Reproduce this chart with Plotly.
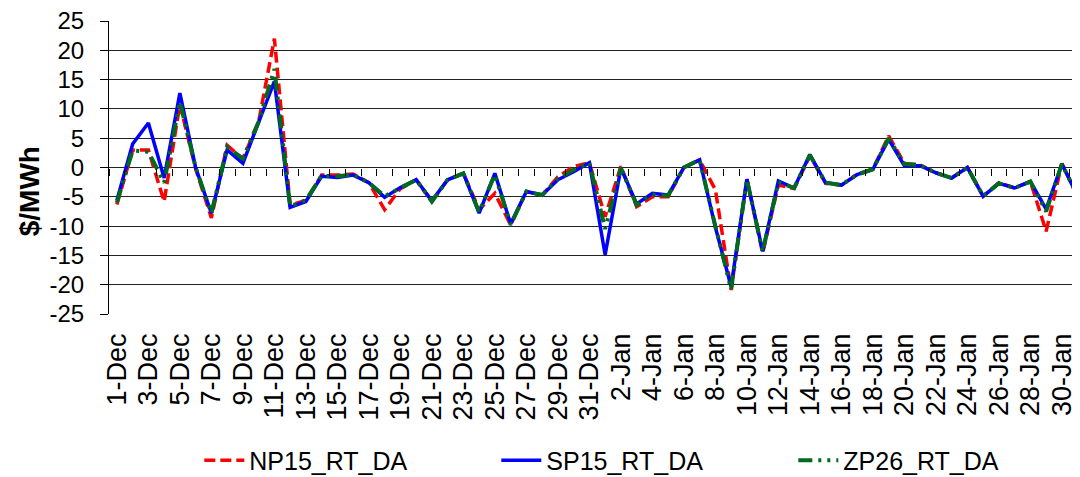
import plotly.graph_objects as go

# daily RT - DA price spread, 1-Dec through 31-Jan
days = [f'{d}-Dec' for d in range(1, 32)] + [f'{d}-Jan' for d in range(1, 32)]

np15 = [-6.3, 3.0, 3.0, -5.8, 10.8, -0.2, -8.6, 3.8, 1.5, 7.8,
        22.0, -6.4, -5.6, -1.3, -1.3, -1.1, -2.6, -7.2, -3.6, -2.1,
        -5.8, -2.1, -1.0, -7.2, -4.4, -9.8, -4.1, -4.7, -1.6, 0.2,
        0.8, -8.4, 0.2, -6.7, -5.0, -5.0, 0.0, 1.3, -3.8, -20.9,
        -2.0, -14.6, -3.0, -3.6, 2.0, -2.7, -3.0, -1.2, -0.3, 5.4,
        0.7, 0.4, -0.9, -1.8, 0.0, -4.9, -2.6, -3.5, -2.4, -10.9,
        0.7, -4.9]
sp15 = [-5.6, 4.0, 7.6, -1.8, 12.7, 0.0, -7.8, 3.0, 0.7, 7.7,
        14.7, -6.8, -5.8, -1.5, -1.7, -1.3, -2.6, -5.1, -3.4, -2.1,
        -5.7, -2.1, -1.0, -7.8, -1.0, -9.6, -4.1, -4.7, -2.1, -0.7,
        0.8, -14.9, -0.1, -6.2, -4.4, -4.7, 0.0, 1.3, -10.2, -20.3,
        -2.0, -14.3, -2.3, -3.5, 2.2, -2.6, -3.0, -1.2, -0.3, 4.8,
        0.3, 0.3, -0.9, -1.8, 0.0, -4.9, -2.7, -3.5, -2.4, -7.1,
        0.6, -4.9]
zp26 = [-6.0, 2.9, 2.7, -2.6, 11.2, 0.0, -7.8, 3.5, 1.5, 7.8,
        16.8, -6.6, -5.6, -1.4, -1.5, -1.2, -2.6, -4.9, -3.5, -2.1,
        -5.8, -2.1, -1.0, -7.6, -1.2, -9.8, -4.1, -4.7, -1.9, -0.4,
        0.8, -10.5, -0.1, -6.4, -4.6, -4.8, 0.0, 1.3, -10.0, -20.8,
        -2.0, -14.4, -2.5, -3.5, 2.1, -2.6, -3.0, -1.2, -0.3, 5.0,
        0.6, 0.4, -0.9, -1.8, 0.0, -4.9, -2.7, -3.5, -2.4, -7.5,
        0.6, -4.9]

y_ticks = list(range(-25, 30, 5))

font = 'Liberation Sans, Arial, sans-serif'
idx = list(range(len(days)))
x_range = [-0.5, 61.15]

fig = go.Figure()
fig.add_trace(go.Scatter(x=idx, y=np15, name='NP15_RT_DA', mode='lines',
                         line=dict(color='#ff0000', width=3.5, dash='11px,5px')))
fig.add_trace(go.Scatter(x=idx, y=sp15, name='SP15_RT_DA', mode='lines',
                         line=dict(color='#0000ff', width=3.5)))
fig.add_trace(go.Scatter(x=idx, y=zp26, name='ZP26_RT_DA', mode='lines',
                         line=dict(color='#006a21', width=4, dash='14px,6px,3px,6px,3px,6px')))
# invisible copy so the bottom label axis gets drawn
fig.add_trace(go.Scatter(x=idx, y=sp15, xaxis='x2', mode='lines', opacity=0,
                         showlegend=False, hoverinfo='skip', line=dict(width=0)))

# page body adds an 8px offset, so the figure is 8px smaller than the window
fig.update_layout(
    width=1072, height=469,
    margin=dict(l=101, r=0, t=13, b=163, autoexpand=False),
    paper_bgcolor='white', plot_bgcolor='white',
    font=dict(family=font, size=22, color='black'),
    showlegend=True,
    legend=dict(orientation='h', x=0.093, xanchor='left', y=-0.5, yanchor='middle',
                entrywidth=242, itemwidth=40, font=dict(size=25),
                bgcolor='rgba(0,0,0,0)'),
    # axis sitting on the zero line: tick marks between days
    xaxis=dict(range=x_range, anchor='free', position=0.5,
               tickmode='linear', tick0=-0.5, dtick=1, ticks='outside', ticklen=7,
               tickcolor='black', tickwidth=1, showticklabels=False,
               showgrid=False, showline=False, zeroline=False, automargin=False),
    # labels along the bottom
    xaxis2=dict(overlaying='x', anchor='y', side='bottom', range=x_range,
                tickvals=idx[::2], ticktext=days[::2], tickangle=-90, ticks='',
                showgrid=False, showline=False, zeroline=False,
                tickfont=dict(size=27), ticklabelstandoff=13, automargin=False),
    yaxis=dict(range=[-25, 25], tickvals=y_ticks, ticktext=[str(v) for v in y_ticks],
               showgrid=True, gridcolor='#222222', gridwidth=1,
               zeroline=False, showline=True, linecolor='black', linewidth=1,
               ticks='outside', ticklen=8, tickcolor='black', ticklabeloverflow='allow',
               tickfont=dict(size=24), ticklabelstandoff=11, automargin=False),
)

fig.add_annotation(text='<b>$/MWh</b>', textangle=-90, xref='paper', yref='paper',
                   x=-0.081, y=0.42, xanchor='center', yanchor='middle',
                   showarrow=False, font=dict(size=28))

fig.write_html('out.html')
